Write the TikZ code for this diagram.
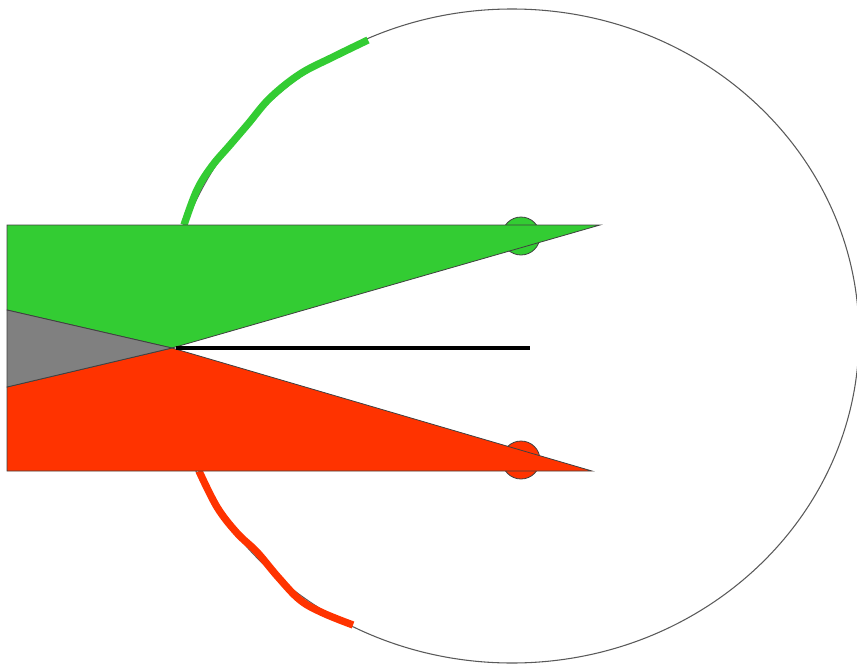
\documentclass[tikz,border=0pt]{standalone}
\usetikzlibrary{calc}
\definecolor{gfill}{HTML}{33CC33}
\definecolor{rfill}{HTML}{FF3300}
\definecolor{grayfill}{HTML}{808080}
\tikzset{
  outline/.style={draw=black!75, line width=0.6pt},
  wire/.style={line width=5.5pt},
  rim/.style={draw=black!65, line width=0.8pt},
}
\begin{document}
\begin{tikzpicture}[x=0.75pt,y=-0.75pt]
\useasboundingbox (0,0) rectangle (857,664);
% big ellipse
\draw[rim] (512,336) ellipse [x radius=260.25pt, y radius=245.25pt];
% wires
\draw[wire, gfill] plot[smooth, tension=0.6] coordinates {(184,225) (197,190) (212,166) (230,145) (248,124) (270,98) (300,74) (333,57) (368,40)};
\draw[wire, rfill] plot[smooth, tension=0.6] coordinates {(199,471) (217,507) (237,533) (257,552) (278,577) (300,600) (323,613) (353,625)};
% small circles behind
\draw[outline, fill=gfill] (521,236) circle [radius=14.25pt];
\draw[outline, fill=rfill] (521,460) circle [radius=14.25pt];
% polygons
\coordinate (apex) at (172,348);
\draw[outline, fill=gfill] (7,225) -- (600,225) -- (apex) -- (7,310) -- cycle;
\draw[outline, fill=rfill] (7,387) -- (apex) -- (592,471) -- (7,471) -- cycle;
\draw[outline, fill=grayfill] (7,310) -- (apex) -- (7,387) -- cycle;
% black bar
\coordinate (barL) at (176,347.5);
\coordinate (barR) at (530,347.5);
\draw[line width=3pt, black] (barL) -- (barR);
\end{tikzpicture}
\end{document}
